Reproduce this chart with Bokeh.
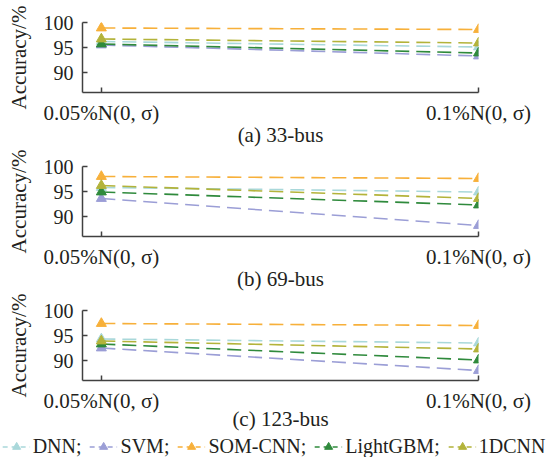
from bokeh.plotting import figure
from bokeh.layouts import column
from bokeh.models import Range1d, FixedTicker, Legend, LegendItem
from bokeh.embed import file_html
from bokeh.resources import INLINE

# ---- data ----
categories = ["0.05%N(0, σ)", "0.1%N(0, σ)"]
series_names = ["DNN", "SVM", "SOM-CNN", "LightGBM", "1DCNN"]
legend_labels = ["DNN;", "SVM;", "SOM-CNN;", "LightGBM;", "1DCNN"]
panel_titles = ["(a) 33-bus", "(b) 69-bus", "(c) 123-bus"]
y_ticks = [90, 95, 100]

dnn_33 = [96.2, 95.1]
svm_33 = [95.5, 93.3]
somcnn_33 = [98.9, 98.6]
lgbm_33 = [95.7, 93.9]
cnn1d_33 = [96.7, 95.9]

dnn_69 = [95.8, 94.9]
svm_69 = [93.6, 88.2]
somcnn_69 = [98.0, 97.6]
lgbm_69 = [94.9, 92.3]
cnn1d_69 = [96.2, 93.6]

dnn_123 = [94.3, 93.5]
svm_123 = [92.5, 88.0]
somcnn_123 = [97.4, 97.0]
lgbm_123 = [93.3, 90.1]
cnn1d_123 = [93.9, 92.3]

panels_data = [
    [dnn_33, svm_33, somcnn_33, lgbm_33, cnn1d_33],
    [dnn_69, svm_69, somcnn_69, lgbm_69, cnn1d_69],
    [dnn_123, svm_123, somcnn_123, lgbm_123, cnn1d_123],
]

# ---- style ----
colors = ["#a9d8da", "#9b9ed6", "#f7b03a", "#2f8a3c", "#b3b33a"]
FONT = "Liberation Serif"
TEXT = "#231f20"
AXIS = "#404040"
DASH = "14 7"
x_idx = list(range(len(categories)))


def make_panel(title, data, top, bottom, title_standoff=-5):
    p = figure(frame_width=396, frame_height=70, output_backend="svg", toolbar_location=None,
               x_range=Range1d(-0.05, 1.0), y_range=Range1d(86, 100),
               min_border_left=82, min_border_right=69,
               min_border_top=top, min_border_bottom=bottom)
    p.outline_line_color = None
    p.xgrid.visible = False
    p.ygrid.visible = False
    p.background_fill_color = "white"
    p.border_fill_color = "white"

    for vals, col in zip(data, colors):
        p.line(x_idx, vals, line_color=col, line_width=1.6, line_dash=DASH)
        p.scatter(x_idx, vals, marker="triangle", size=10, fill_color=col, line_color=col)

    xa = p.xaxis[0]
    xa.ticker = FixedTicker(ticks=x_idx)
    xa.major_label_overrides = {i: c for i, c in zip(x_idx, categories)}
    xa.minor_tick_line_color = None
    xa.major_tick_in = 5
    xa.major_tick_out = 0
    xa.major_label_standoff = 8
    xa.axis_label = title
    xa.axis_label_standoff = title_standoff

    ya = p.yaxis[0]
    ya.ticker = FixedTicker(ticks=y_ticks)
    ya.minor_tick_line_color = None
    ya.major_tick_in = 5
    ya.major_tick_out = 0
    ya.major_label_standoff = 9
    ya.axis_label = "Accuracy/%"
    ya.axis_label_standoff = 10

    for ax in (xa, ya):
        ax.axis_line_color = AXIS
        ax.axis_line_width = 1.5
        ax.major_tick_line_color = AXIS
        ax.major_tick_line_width = 1.5
        ax.major_label_text_font = FONT
        ax.major_label_text_font_size = "20px"
        ax.major_label_text_color = TEXT
        ax.axis_label_text_font = FONT
        ax.axis_label_text_font_size = "21px"
        ax.axis_label_text_font_style = "normal"
        ax.axis_label_text_color = TEXT
    xa.major_label_text_font_size = "21px"
    return p


p1 = make_panel(panel_titles[0], panels_data[0], 22, 56)
p2 = make_panel(panel_titles[1], panels_data[1], 17, 56)
p3 = make_panel(panel_titles[2], panels_data[2], 17, 52, title_standoff=-9)

# legend strip (shared by all three panels); its sample renderers lie outside
# the strip's visible range so that only the legend entries show
pl = figure(frame_width=547, frame_height=26, output_backend="svg", toolbar_location=None,
            x_range=Range1d(0, 1), y_range=Range1d(0, 1),
            x_axis_type=None, y_axis_type=None,
            min_border_left=0, min_border_right=0, min_border_top=0, min_border_bottom=0)
pl.outline_line_color = None
pl.xgrid.visible = False
pl.ygrid.visible = False
items = []
for lab, vals, col in zip(legend_labels, panels_data[2], colors):
    r1 = pl.line(x_idx, vals, line_color=col, line_width=1.6, line_dash="5 4")
    r2 = pl.scatter(x_idx, vals, marker="triangle", size=10, fill_color=col, line_color=col)
    items.append(LegendItem(label=lab, renderers=[r1, r2]))
leg = Legend(items=items, orientation="horizontal", location="center",
             label_text_font=FONT, label_text_font_size="20px",
             label_text_color=TEXT, glyph_width=28, glyph_height=20,
             label_standoff=3, spacing=8, padding=0, margin=0,
             border_line_color=None, background_fill_alpha=0)
pl.add_layout(leg, "center")

layout = column(p1, p2, p3, pl, spacing=0)
open("out.html", "w").write(file_html(layout, INLINE))
